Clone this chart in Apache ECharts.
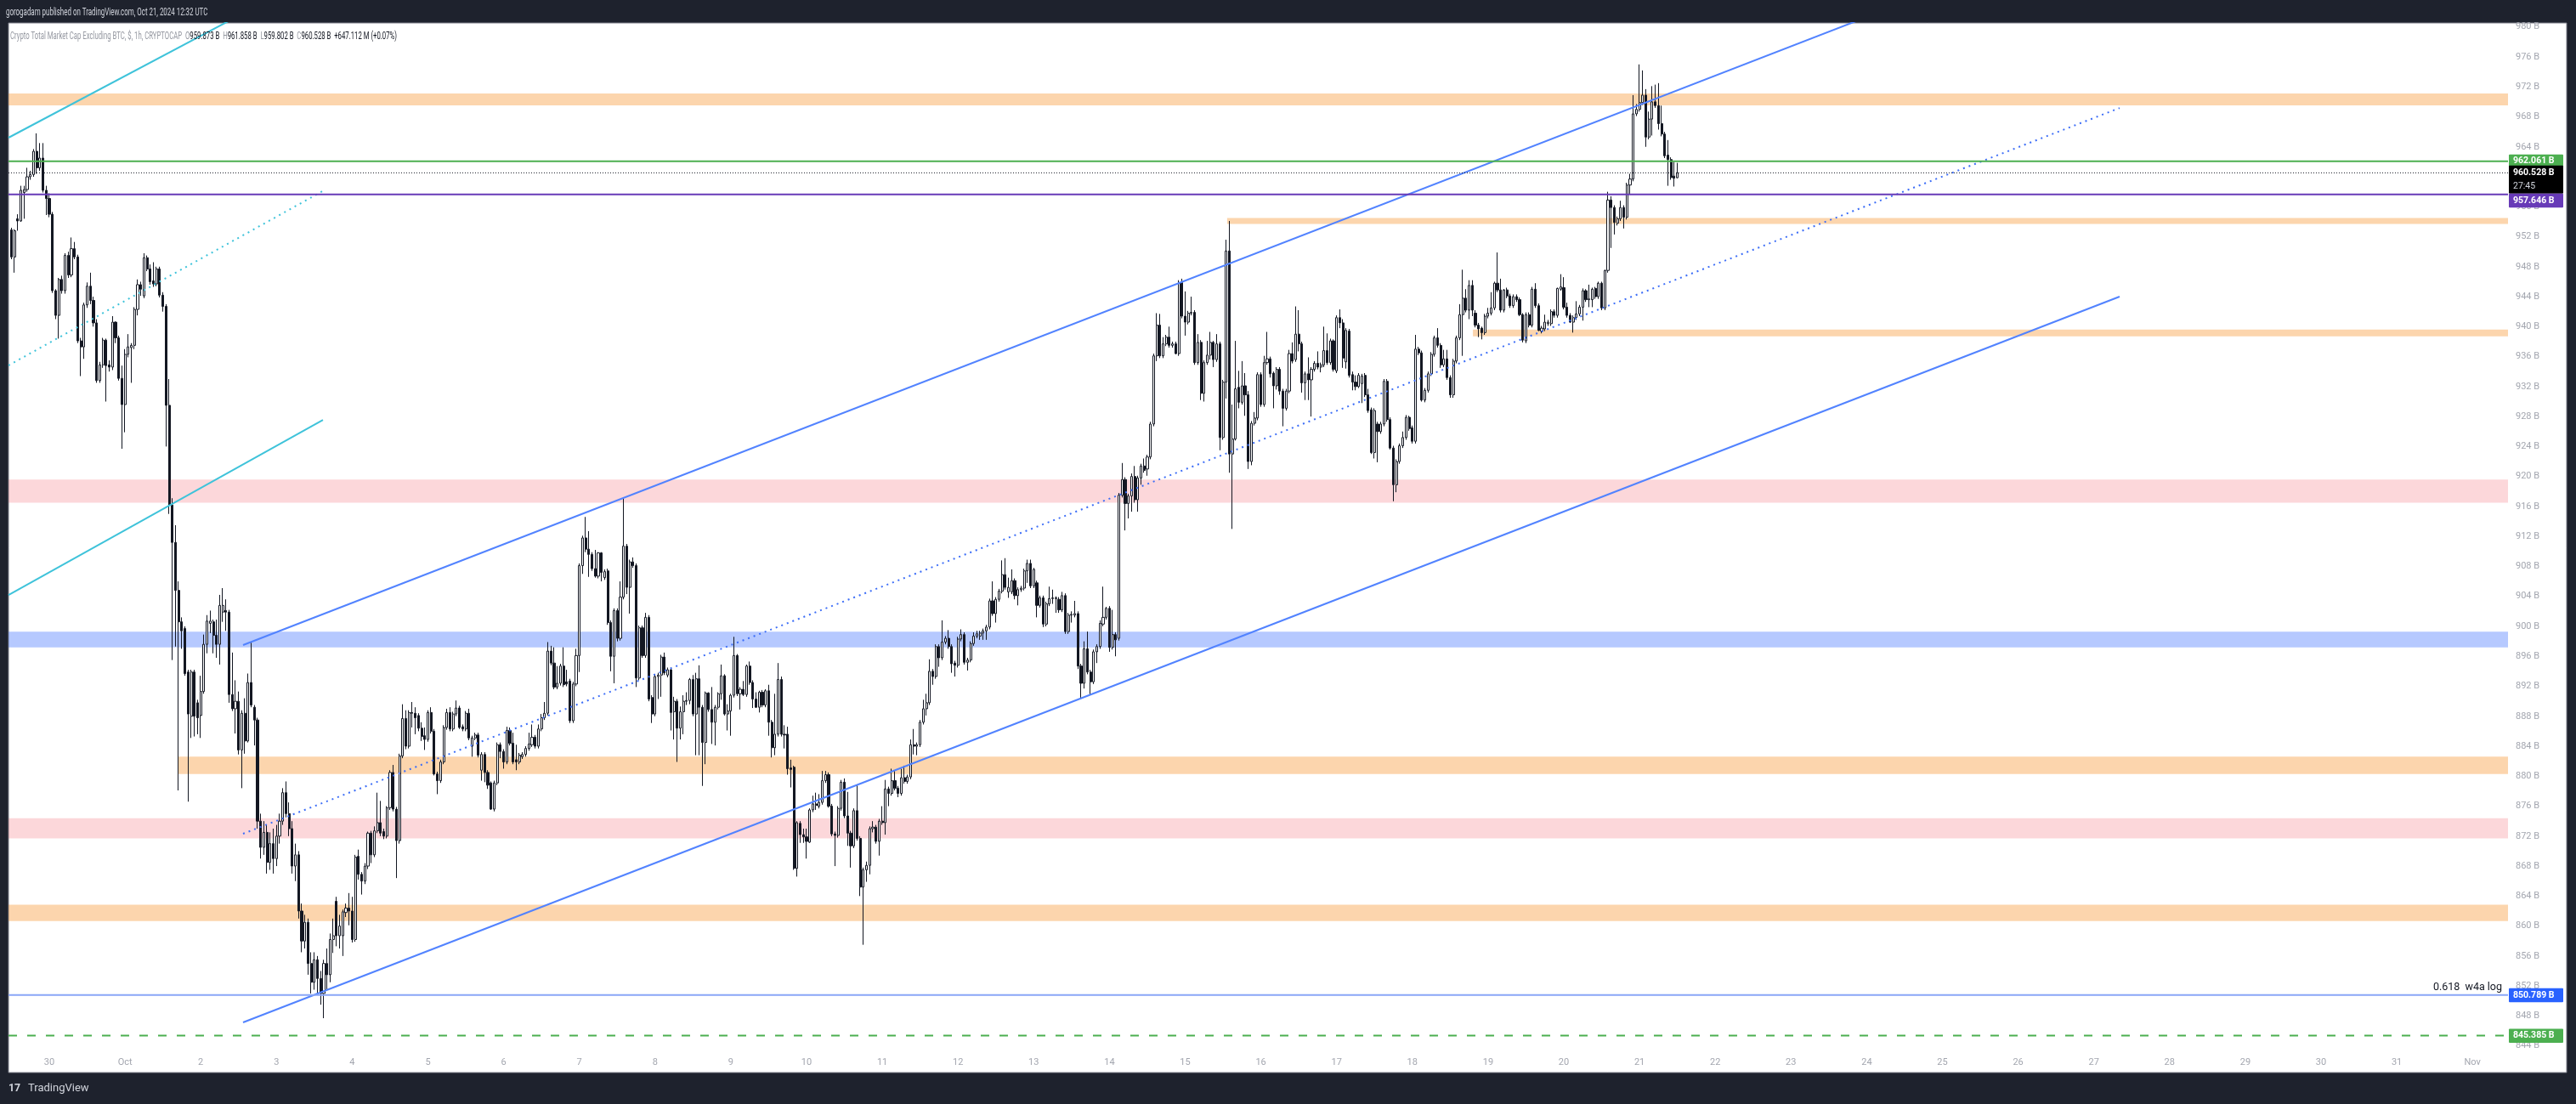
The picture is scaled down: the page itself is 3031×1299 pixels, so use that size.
<!DOCTYPE html>
<html><head><meta charset="utf-8">
<script src="https://cdn.jsdelivr.net/npm/echarts@6/dist/echarts.min.js"></script>
<style>html,body{margin:0;padding:0;background:#1e222d;overflow:hidden}#c{width:3031px;height:1299px}</style>
</head><body><div id="c"></div>
<script>
// ---------- DATA (hours counted from 2024-09-30 00:00 UTC, 1h candles) ----------
const candleStartHour = -12;
// [open, close, low, high] in billions USD
const candles = [
// Sep 29 12:00-23:00
[952.9,949.3,949.0,953.2],[949.3,952.8,947.2,953.0],[954.4,954.1,952.8,955.0],[954.1,958.2,954.0,958.8],
[957.9,958.3,954.4,958.8],[958.3,960.0,958.0,961.2],[960.0,960.3,959.6,960.8],[960.3,963.4,960.0,963.7],
[963.4,961.2,960.4,965.8],[961.2,962.5,960.8,964.5],[962.5,958.2,957.9,964.5],[958.2,957.1,954.9,958.8],
// Sep 30
[957.1,955.0,954.6,957.8],[955.0,944.8,944.5,955.3],[944.8,941.5,941.0,945.0],[941.5,946.3,938.4,946.5],
[946.3,944.8,944.4,946.8],[944.8,949.5,944.4,949.8],[949.5,946.9,946.5,950.0],[946.9,950.4,946.6,951.9],
[950.4,949.3,949.0,951.3],[949.3,938.1,937.8,949.6],[938.1,937.3,933.4,938.5],[937.3,942.9,935.7,943.2],
[942.9,945.4,942.5,945.9],[945.4,943.5,943.0,947.2],[943.5,940.5,940.0,944.0],[940.5,932.8,932.5,941.0],
[932.8,934.9,932.5,935.3],[934.9,938.2,934.5,938.5],[938.2,934.8,930.0,938.4],[934.9,934.6,934.0,935.5],
[934.6,940.6,934.2,941.4],[940.6,938.5,937.8,940.7],[938.5,933.1,932.8,938.8],[933.1,929.6,923.7,934.8],
// Oct 1
[929.6,936.3,925.9,937.0],[936.3,937.3,935.9,939.0],[937.2,937.5,932.5,937.8],[937.5,942.3,937.0,942.6],
[942.3,945.6,941.5,946.3],[945.6,945.0,944.1,946.0],[944.1,949.2,943.8,949.8],[949.2,947.7,947.4,949.5],
[947.7,946.0,945.6,948.3],[946.1,945.7,945.3,948.6],[945.7,947.7,945.4,948.0],[947.7,944.2,943.9,948.0],
[944.2,942.7,942.0,944.6],[942.7,929.5,924.0,943.0],[929.5,916.2,915.0,933.0],[916.2,911.2,895.5,917.1],
[911.2,904.8,897.3,913.5],[904.8,900.6,878.1,906.0],[900.6,899.4,897.0,901.2],[899.7,893.7,893.4,900.0],
[893.9,888.3,876.6,894.2],[888.0,893.9,885.1,894.2],[893.9,888.0,885.3,894.2],[889.8,887.8,885.6,890.2],
// Oct 2
[888.1,891.3,885.1,893.4],[891.3,897.6,891.0,898.9],[897.6,900.7,896.4,901.5],[900.4,900.7,899.1,902.1],
[900.6,898.8,896.4,900.9],[898.8,897.6,895.8,900.9],[897.6,902.8,894.9,904.2],[901.9,902.8,900.6,905.1],
[902.1,901.9,899.4,903.6],[901.9,890.9,889.8,902.2],[890.9,889.0,888.7,896.5],[889.0,890.0,885.7,892.8],
[890.0,883.5,882.9,891.3],[883.5,888.4,878.4,888.8],[888.4,884.7,883.0,890.4],[884.7,892.5,884.5,893.7],
[892.5,889.5,889.2,897.9],[889.2,887.5,884.1,889.5],[887.5,874.0,873.0,887.8],[874.0,870.5,869.0,875.0],
[870.5,872.5,869.5,874.0],[872.5,868.5,867.0,873.5],[868.5,871.0,867.5,872.5],[871.0,869.0,867.0,873.0],
// Oct 3
[869.0,872.0,868.0,873.5],[872.0,874.0,871.0,875.0],[874.0,877.8,873.5,878.4],[877.8,875.0,874.5,879.3],
[875.0,873.0,872.0,876.5],[873.0,868.0,867.0,874.0],[868.0,869.5,866.0,871.0],[869.5,862.0,861.0,870.0],
[862.0,858.0,856.5,863.0],[858.0,860.5,857.0,861.5],[860.5,855.0,853.5,861.0],[855.0,852.5,851.0,856.5],
[852.5,855.5,851.5,856.5],[855.5,853.0,851.0,856.0],[853.0,851.0,849.5,854.0],[851.0,855.0,847.7,855.5],
[855.0,853.5,851.5,857.0],[853.5,858.2,852.5,859.0],[858.2,858.7,856.4,861.0],[863.3,858.7,857.3,863.9],
[858.7,860.0,857.0,861.5],[858.7,861.9,856.0,862.2],[861.8,862.4,861.2,863.0],[862.4,862.0,860.1,864.4],
// Oct 4
[862.0,858.2,857.8,863.9],[858.2,869.2,857.9,869.5],[869.3,866.9,866.2,870.2],[866.9,866.0,864.2,867.2],
[866.0,868.0,865.6,868.4],[868.0,872.4,867.6,872.6],[872.4,869.5,868.4,872.7],[869.5,872.7,869.2,873.3],
[872.7,873.8,872.4,877.8],[873.8,872.4,872.0,876.7],[872.6,872.0,871.6,873.0],[872.0,875.8,871.7,876.0],
[875.8,880.5,875.5,880.8],[880.5,875.6,875.3,881.5],[875.6,871.4,866.4,875.9],[871.4,882.7,871.0,883.0],
[882.7,887.7,882.4,889.6],[887.7,884.0,883.6,888.8],[884.0,888.5,883.7,888.8],[888.5,888.4,886.5,889.9],
[888.4,887.8,885.6,889.2],[888.1,886.4,886.0,888.4],[886.4,885.3,884.7,887.2],[885.4,884.9,883.5,886.5],
// Oct 5
[884.9,888.5,884.6,888.8],[888.5,886.0,885.7,889.2],[886.0,880.3,880.1,886.3],[880.3,879.4,877.6,880.6],
[879.4,881.9,879.1,882.2],[881.9,886.5,881.6,886.8],[886.5,888.5,886.2,889.0],[888.5,886.3,886.0,889.2],
[886.3,888.3,886.0,888.6],[888.3,889.1,888.0,890.1],[889.1,886.5,886.3,889.4],[886.6,886.3,886.0,886.9],
[886.3,888.4,886.0,888.7],[888.4,885.1,884.8,889.0],[884.0,885.1,882.6,885.4],[885.1,885.5,884.8,885.8],
[885.5,882.8,882.5,885.8],[880.8,882.9,879.4,883.2],[882.9,880.5,879.2,883.2],[880.5,878.8,878.3,880.8],
[879.1,875.6,875.5,879.3],[875.6,879.1,875.3,879.4],[879.1,884.2,878.8,884.5],[884.2,883.3,882.4,884.5],
// Oct 6
[883.3,881.9,881.0,883.6],[881.9,886.1,881.6,886.6],[886.1,884.4,884.1,886.5],[884.4,881.9,881.6,885.8],
[882.2,881.9,880.8,884.2],[881.9,882.8,881.6,883.1],[882.6,882.9,882.3,883.2],[882.9,883.7,882.6,884.0],
[883.7,884.3,883.4,885.8],[884.2,885.2,883.9,886.9],[885.2,884.0,883.7,885.5],[884.0,886.3,883.7,886.9],
[886.3,887.8,886.0,888.3],[887.8,888.4,887.5,889.9],[888.4,896.7,888.1,897.9],[896.7,895.1,894.8,897.4],
[895.1,891.9,891.6,897.2],[891.9,892.4,891.6,894.7],[892.4,894.7,892.1,895.0],[894.7,892.2,891.9,897.2],
[892.6,892.3,892.0,894.2],[892.7,887.4,887.1,893.0],[887.4,892.3,887.1,892.6],[892.3,896.1,892.0,897.0],
// Oct 7
[896.1,908.1,893.9,908.4],[908.1,911.8,907.0,912.1],[911.8,910.3,909.9,914.6],[910.3,909.6,906.6,912.7],
[909.6,907.7,907.4,909.9],[907.7,906.7,906.5,910.2],[906.7,909.8,906.4,909.9],[909.8,907.2,906.0,909.9],
[906.5,907.3,906.2,907.6],[907.4,900.5,900.2,907.7],[900.5,896.0,894.0,900.8],[896.0,902.1,892.4,902.4],
[902.1,898.4,898.0,902.4],[898.4,903.9,898.1,906.0],[903.9,910.7,903.6,917.2],[910.7,905.2,904.3,911.0],
[905.2,908.6,901.7,908.9],[908.6,908.1,907.8,909.2],[908.1,893.1,891.9,908.4],[893.1,899.8,892.8,900.1],
[899.8,896.1,895.8,900.1],[896.1,901.2,895.8,901.8],[901.2,890.3,890.0,901.5],[890.5,888.3,887.1,890.8],
// Oct 8
[888.3,893.3,888.0,893.6],[893.3,893.5,890.3,893.8],[893.5,895.9,890.6,896.2],[895.9,893.8,893.5,896.5],
[893.5,894.2,893.2,894.5],[894.2,888.5,886.1,894.5],[888.6,890.0,884.9,890.6],[890.0,886.4,881.9,890.3],
[886.4,888.6,884.9,889.3],[888.6,890.0,885.6,890.8],[890.0,890.1,889.5,891.2],[890.1,892.9,889.6,893.1],
[892.9,888.3,888.0,893.5],[888.3,893.0,882.8,893.8],[893.0,889.2,882.8,894.8],[889.2,884.5,878.7,889.5],
[884.5,891.1,881.6,891.3],[891.1,888.9,888.6,891.2],[888.9,887.2,884.3,891.9],[887.2,889.2,884.1,889.5],
[889.2,891.0,888.9,891.2],[891.0,893.4,890.2,894.9],[893.4,888.3,888.1,893.6],[888.3,888.7,886.1,889.6],
// Oct 9
[888.7,890.8,885.4,891.0],[890.8,896.1,890.5,898.6],[896.1,891.0,890.7,896.3],[891.0,891.6,888.9,891.9],
[891.6,890.9,890.7,892.7],[890.9,894.7,890.6,894.9],[894.7,892.5,892.2,895.3],[892.5,890.3,889.1,892.8],
[890.3,889.2,889.1,891.2],[889.2,891.2,888.5,891.4],[891.2,889.5,889.2,891.5],[889.5,891.4,889.2,891.6],
[891.4,887.2,885.4,892.2],[887.2,883.8,882.5,887.5],[883.8,885.6,882.8,891.0],[885.6,892.9,885.3,895.1],
[892.9,885.6,885.3,893.3],[885.6,885.5,883.7,886.8],[885.6,881.0,880.2,886.6],[881.1,880.9,878.5,882.2],
[881.2,867.7,867.5,881.4],[867.7,873.8,866.6,874.0],[873.7,872.2,871.1,874.0],[872.2,871.9,871.1,873.0],
// Oct 10
[871.9,871.3,869.0,873.0],[871.2,875.5,871.1,875.7],[875.5,876.3,875.2,877.4],[876.3,876.1,875.5,877.8],
[876.0,876.5,875.7,877.6],[876.5,879.4,876.2,880.7],[879.4,880.2,879.1,880.7],[880.2,876.0,875.8,880.5],
[876.0,872.3,872.0,876.3],[872.3,872.1,868.0,872.6],[872.1,875.7,871.8,876.0],[875.7,879.2,875.4,879.5],
[879.2,874.7,874.4,879.7],[874.7,872.4,870.7,877.9],[872.4,870.7,867.8,872.7],[870.7,875.4,870.4,875.7],
[875.4,871.7,871.4,878.9],[871.7,865.2,864.0,872.0],[865.2,867.5,857.5,867.8],[867.5,868.1,865.9,868.6],
[868.1,873.0,866.9,873.3],[873.0,873.2,872.5,874.0],[873.2,871.3,871.0,873.5],[871.3,874.0,869.4,874.3],
// Oct 11
[874.0,873.8,873.5,876.0],[873.8,878.3,872.2,879.5],[878.3,877.7,876.0,878.6],[877.7,879.4,877.4,881.0],
[879.4,878.4,878.1,880.7],[878.4,877.7,877.2,878.7],[877.7,879.8,877.4,881.0],[879.8,879.3,879.0,881.4],
[879.3,879.9,879.0,880.2],[879.9,884.2,879.6,884.9],[884.2,884.0,882.9,886.3],[884.0,884.2,882.8,884.5],
[884.2,887.2,883.9,887.5],[887.2,889.0,886.9,890.2],[889.0,889.8,888.1,891.0],[889.8,894.0,889.5,895.6],
[894.0,893.3,892.2,894.3],[893.3,897.3,893.0,897.6],[897.3,895.8,894.6,897.6],[895.8,897.9,895.5,900.8],
[897.9,898.4,897.6,898.7],[898.4,897.3,897.0,899.5],[897.3,895.0,893.8,897.6],[895.1,894.8,893.3,895.4],
// Oct 12
[894.8,898.3,894.5,898.6],[898.3,898.9,898.0,899.6],[898.9,895.2,894.9,899.2],[895.2,895.5,894.1,895.8],
[895.5,897.7,895.2,898.0],[897.7,898.7,897.4,899.2],[898.7,899.0,898.4,899.4],[898.7,899.1,898.2,899.4],
[899.1,899.4,898.2,899.7],[899.4,899.9,898.2,900.2],[899.9,903.4,899.6,903.7],[903.4,901.7,901.4,906.0],
[901.7,903.6,900.5,903.9],[903.6,904.7,903.3,905.0],[904.7,906.9,904.4,908.8],[906.9,905.2,904.9,909.1],
[904.6,905.2,903.8,906.5],[904.6,906.1,904.3,907.6],[906.1,904.1,903.6,906.4],[904.1,904.9,902.8,905.2],
[904.9,905.1,904.6,905.4],[905.1,907.4,904.8,907.7],[907.4,908.4,905.8,908.9],[908.4,905.4,905.1,908.9],
// Oct 13
[905.4,907.6,905.1,907.8],[905.8,902.8,901.2,906.1],[902.8,903.8,902.5,904.1],[903.8,900.3,899.9,904.1],
[900.3,903.0,900.0,903.3],[903.0,903.7,902.7,905.3],[903.7,903.8,903.0,904.9],[903.7,903.8,901.8,904.0],
[903.6,902.2,901.8,903.9],[902.2,904.1,901.9,904.6],[904.1,899.3,899.0,904.4],[899.3,901.5,899.0,901.8],
[901.5,901.6,900.5,902.0],[901.5,901.7,901.2,903.4],[901.7,894.7,894.3,902.0],[894.7,892.4,890.4,895.0],
[892.4,897.0,891.7,898.0],[897.0,893.9,893.6,899.3],[893.9,892.6,890.9,894.2],[892.6,896.6,892.3,896.9],
[896.6,897.3,895.1,897.6],[897.3,900.4,897.0,900.8],[900.3,901.2,900.0,905.3],[901.2,902.4,900.9,902.6],
// Oct 14
[902.4,897.2,896.6,902.7],[897.2,898.9,896.9,902.2],[898.9,898.2,896.0,899.2],[898.4,917.5,898.1,917.8],
[917.5,919.6,917.2,921.8],[919.6,916.4,912.8,919.9],[916.4,917.4,914.4,917.7],[917.4,920.0,915.3,920.4],
[920.0,916.9,916.5,921.4],[916.9,919.8,915.3,920.1],[919.8,921.4,918.9,921.7],[921.4,920.8,920.5,922.4],
[921.0,922.6,920.1,922.9],[922.6,927.0,922.3,927.3],[927.0,936.1,926.7,936.4],[936.1,940.2,935.4,941.8],
[940.2,936.1,935.8,941.7],[936.1,937.7,935.8,938.6],[937.7,938.6,937.4,938.9],[938.6,937.5,937.2,940.0],
[937.5,937.7,937.2,938.0],[937.7,936.4,936.3,938.0],[936.4,945.9,936.1,946.2],[945.9,941.4,941.1,946.4],
// Oct 15
[941.4,940.6,938.8,944.7],[940.6,941.8,940.3,942.1],[941.8,941.9,941.5,944.0],[941.9,935.2,934.9,942.2],
[935.2,937.9,934.9,939.0],[937.9,931.1,930.2,938.2],[931.1,935.2,930.0,935.5],[935.2,936.2,934.9,938.1],
[936.2,937.9,935.6,939.3],[937.9,935.6,934.6,938.1],[935.6,937.7,935.3,939.0],[937.7,925.2,923.5,938.0],
[925.2,932.6,924.9,932.9],[932.6,950.1,930.4,951.6],[950.1,923.0,920.5,954.1],[923.0,925.0,913.0,929.6],
[925.0,931.7,924.8,938.1],[931.9,929.9,929.1,934.1],[929.9,932.1,929.6,935.4],[932.1,930.9,928.1,933.8],
[930.9,922.0,921.0,931.4],[922.0,927.1,921.5,927.4],[927.1,927.8,926.8,928.6],[927.8,933.6,927.5,933.9],
// Oct 16
[933.6,929.6,929.3,933.9],[929.6,935.2,929.3,936.1],[935.2,935.7,934.9,939.3],[935.7,933.7,933.2,936.0],
[933.8,932.1,929.1,934.0],[932.1,934.3,931.6,934.6],[934.3,931.4,930.9,934.6],[931.4,929.1,926.7,931.7],
[929.1,931.4,928.8,931.7],[931.4,936.4,931.1,936.9],[936.4,935.4,935.1,937.9],[935.6,939.0,935.3,942.7],
[939.0,937.7,936.7,942.2],[937.7,932.5,931.2,938.0],[932.5,933.7,930.2,934.0],[933.7,932.9,930.2,935.9],
[932.9,934.3,928.0,934.6],[934.3,935.1,934.0,935.4],[935.1,934.6,934.3,936.7],[934.6,934.9,933.9,935.2],
[934.9,936.8,934.6,940.0],[936.8,935.2,934.9,939.1],[935.2,938.1,934.9,938.4],[938.1,934.3,934.0,938.3],
// Oct 17
[934.1,941.2,933.8,941.5],[941.2,940.5,939.8,942.3],[940.5,935.8,934.5,941.0],[935.3,939.5,934.4,939.8],
[939.4,933.5,933.2,939.7],[933.6,932.6,931.5,934.0],[932.6,932.0,931.5,933.5],[932.0,933.5,931.8,933.8],
[932.4,933.4,929.8,933.7],[933.5,930.9,930.6,933.8],[930.9,928.8,928.5,931.7],[928.9,923.2,923.0,929.2],
[923.2,928.8,922.4,929.1],[927.0,926.0,921.9,927.3],[926.0,927.0,925.7,927.3],[927.0,932.7,926.7,933.0],
[932.7,927.6,927.3,933.0],[927.6,923.8,923.6,927.9],[923.8,918.9,916.7,924.1],[918.9,922.0,917.9,922.3],
[922.0,924.1,921.7,924.4],[924.1,925.2,923.8,926.0],[925.2,927.9,924.9,928.2],[927.9,926.4,926.1,928.1],
// Oct 18
[926.5,924.7,924.4,926.8],[924.7,937.0,924.4,938.9],[937.0,936.5,936.2,937.3],[936.5,930.2,930.0,936.8],
[930.2,931.5,929.9,931.8],[931.5,933.7,931.2,934.0],[933.7,936.3,933.4,936.6],[936.3,938.5,936.0,938.8],
[938.5,937.5,937.2,939.8],[937.5,934.9,934.5,937.8],[934.9,935.7,934.6,936.9],[935.7,933.2,932.9,936.9],
[933.2,930.9,930.5,933.5],[930.9,935.4,930.5,935.7],[935.4,938.5,935.1,938.8],[938.5,941.6,938.2,943.0],
[941.6,943.8,936.1,947.6],[943.8,942.2,941.9,945.0],[942.2,945.5,941.0,946.2],[945.5,942.2,941.4,946.2],
[941.8,940.2,939.9,942.2],[940.2,939.7,938.6,940.5],[939.8,939.2,938.3,940.0],[939.2,941.4,938.9,941.7],
// Oct 19
[941.4,941.8,941.1,942.5],[941.8,942.5,941.5,944.6],[942.5,945.8,942.2,946.0],[945.8,944.9,944.6,949.9],
[944.9,942.2,941.9,946.4],[942.2,944.9,941.9,945.0],[944.9,944.1,943.8,945.2],[944.1,942.8,942.5,944.4],
[942.8,944.0,942.5,944.3],[944.0,943.6,943.3,944.3],[943.6,941.6,941.4,943.9],[941.6,938.2,937.9,941.8],
[938.1,941.6,937.8,941.9],[941.6,940.2,939.9,941.9],[940.2,945.0,939.9,945.3],[945.0,942.8,942.5,945.8],
[942.8,939.5,939.4,943.1],[939.4,939.8,939.1,940.1],[939.7,940.6,939.4,941.6],[940.4,940.6,940.1,940.9],
[940.4,942.0,940.1,942.3],[942.0,941.5,941.2,942.3],[941.5,945.1,941.2,945.2],[945.0,945.3,944.8,947.0],
// Oct 20
[945.2,942.6,942.3,946.6],[942.6,941.5,941.2,943.2],[941.5,940.6,940.5,941.8],[940.6,941.2,939.2,941.5],
[941.2,941.7,940.9,943.4],[941.7,942.6,941.4,942.9],[942.6,944.8,940.8,945.1],[944.8,943.6,943.3,945.0],
[943.6,943.7,942.6,945.6],[943.6,945.0,942.6,945.2],[945.1,944.0,943.7,945.3],[944.0,945.8,943.7,946.0],
[945.8,942.5,942.2,946.0],[942.5,947.5,942.2,947.6],[947.5,956.9,947.2,958.0],[956.9,955.9,950.5,957.4],
[955.9,953.9,952.3,956.2],[953.8,954.4,953.5,954.7],[954.4,955.9,954.1,956.8],[955.9,954.6,953.1,956.2],
[954.6,958.9,954.3,959.2],[958.9,959.7,957.6,960.4],[959.7,968.4,959.4,970.9],[968.4,969.0,968.1,969.7],
// Oct 21 00:00-12:00
[969.0,969.9,968.7,975.0],[969.9,970.9,969.6,974.2],[970.9,965.3,964.0,971.7],[965.3,967.7,965.0,968.7],
[967.7,970.0,965.5,972.1],[970.0,969.5,969.2,972.3],[969.5,967.1,966.3,972.5],[967.1,965.7,965.4,969.5],
[965.7,962.8,962.5,966.0],[962.9,962.3,958.8,964.9],[962.3,959.9,959.6,962.6],[960.1,959.8,958.7,962.0],
[959.873,960.528,959.802,961.858]
];
const dayTicks = [0,24,48,72,96,120,144,168,192,216,240,264,288,312,336,360,384,408,432,456,480,504,528,552,576,600,624,648,672,696,720,744,768];
const dayLabels = ['30','Oct','2','3','4','5','6','7','8','9','10','11','12','13','14','15','16','17','18','19','20','21','22','23','24','25','26','27','28','29','30','31','Nov'];
const priceTicks = [844,848,852,856,860,864,868,872,876,880,884,888,892,896,900,904,908,912,916,920,924,928,932,936,940,944,948,952,956,960,964,968,972,976,980];
// horizontal price levels
const levelHigh = 962.061, levelLast = 960.528, levelLow = 957.646, levelFib = 850.789, levelBottom = 845.385;
// zones: [startHour, low, high]
const orangeZones = [[-12.93,969.53,971.12],[373.3,953.7,954.5],[451.2,938.7,939.6],[40.9,880.3,882.6],[-12.93,860.65,862.85]];
const pinkZones = [[-12.93,916.5,919.6],[-12.93,871.7,874.4]];
const blueZones = [[-12.93,897.2,899.3]];
// trend lines: [[hour, value],[hour, value]]
const channelUpper = [[61.41,897.50],[650,993.37]];
const channelLower = [[61.41,847.14],[656.16,944.01]];
const channelMid = [[61.41,872.32],[656.16,969.18]];
const cyanTop = [[-12.93,965.22],[86.73,987.45]];
const cyanMid = [[-12.93,934.82],[86.73,958.11]];
const cyanLow = [[-12.93,904.19],[86.73,927.56]];

// ---------- CHART ----------
const xMin = -12.93, xMax = 779.26, yMin = 842.94, yMax = 980.533;
const chart = echarts.init(document.getElementById('c'), null, {width:3031, height:1299});
const lbl = '#a3a6af';
function zoneData(list){ return list.map(z => [{xAxis:z[0], yAxis:z[2]}, {xAxis:xMax, yAxis:z[1]}]); }
function hline(v, color, width, type){
  return {type:'line', data:[[xMin,v],[xMax,v]], symbol:'none', silent:true, z:7, animation:false,
          lineStyle:{color, width, type}};
}
function tline(pts, color, width, type){
  return {type:'line', data:pts, symbol:'none', silent:true, z:7, clip:true, animation:false,
          lineStyle:{color, width, type}};
}
const option = {
  animation:false,
  backgroundColor:'#1e222d',
  grid:{left:10, right:80, top:27, bottom:59, containLabel:false},
  xAxis:{type:'value', min:xMin, max:xMax, axisLine:{show:false}, axisTick:{show:false}, splitLine:{show:false},
    axisLabel:{customValues:dayTicks, margin:5, color:lbl, fontSize:11, fontFamily:'Roboto',
      formatter:v => dayLabels[dayTicks.indexOf(v)]}},
  yAxis:{type:'value', position:'right', min:yMin, max:yMax, scale:true, axisLine:{show:false}, axisTick:{show:false}, splitLine:{show:false},
    axisLabel:{customValues:priceTicks, margin:9, color:lbl, fontSize:11, fontFamily:'Roboto',
      formatter:v => v + ' B'}},
  series:[
    {type:'candlestick', name:'TOTAL2',
     dimensions:['t','open','close','lowest','highest'],
     encode:{x:'t', y:['open','close','lowest','highest']},
     data:candles.map((c,i)=>[candleStartHour+i, c[0], c[1], c[2], c[3]]),
     barWidth:2.6, z:5, silent:true,
     itemStyle:{color:'#ffffff', color0:'#131722', borderColor:'#131722', borderColor0:'#131722', borderWidth:1}},
    {type:'line', data:[], symbol:'none', z:6, silent:true,
     markArea:{silent:true, itemStyle:{color:'rgba(245,124,0,0.32)'}, data:zoneData(orangeZones)}},
    {type:'line', data:[], symbol:'none', z:6, silent:true,
     markArea:{silent:true, itemStyle:{color:'rgba(242,54,69,0.2)'}, data:zoneData(pinkZones)}},
    {type:'line', data:[], symbol:'none', z:6, silent:true,
     markArea:{silent:true, itemStyle:{color:'rgba(41,98,255,0.34)'}, data:zoneData(blueZones)}},
    tline(channelUpper, '#5283ff', 2, 'solid'),
    tline(channelLower, '#5283ff', 2, 'solid'),
    tline(channelMid, '#3d6ef7', 2, [2,5]),
    tline(cyanTop, '#3fc3da', 2, 'solid'),
    tline(cyanMid, '#3fc3da', 2, [2,5]),
    tline(cyanLow, '#3fc3da', 2, 'solid'),
    hline(levelHigh, '#4caf50', 2, 'solid'),
    hline(levelLast, '#131722', 1, [1,2]),
    hline(levelLow, '#673ab7', 2, 'solid'),
    hline(levelFib, '#8aa6f7', 2, 'solid'),
    hline(levelBottom, '#4caf50', 2, [10,12])
  ]
};
chart.setOption(option);

const py = v => chart.convertToPixel({yAxisIndex:0}, v);
const g = [];
g.push({type:'rect', shape:{x:10, y:27, width:3010, height:1235}, style:{fill:'#ffffff', stroke:'#787b86', lineWidth:1}, z:-10, silent:true});
function txt(x, y, text, fill, size, weight, align, extra){
  const el = {type:'text', x, y, z:101, silent:true,
    style:Object.assign({text, fill, fontSize:size, fontFamily:'Roboto', fontWeight:weight||'normal',
      textAlign:align||'left', align:align||'left', textVerticalAlign:'middle', verticalAlign:'middle'}, extra||{})};
  g.push(el); return el;
}
// header
const t1 = txt(7, 15, 'gorogadam published on TradingView.com, Oct 21, 2024 12:32 UTC', '#d1d4dc', 12.5, 'normal');
t1.scaleX = 0.635;
const leg = {type:'text', x:12, y:43, z:101, scaleX:0.62, silent:true, style:{
  text:'{g|Crypto Total Market Cap Excluding BTC, $, 1h, CRYPTOCAP}  {g|O}{k|959.873 B}  {g|H}{k|961.858 B}  {g|L}{k|959.802 B}  {g|C}{k|960.528 B}  {k|+647.112 M (+0.07%)}',
  fontSize:12.5, fontFamily:'Roboto', textVerticalAlign:'middle', verticalAlign:'middle',
  rich:{g:{fill:'#9598a1', color:'#9598a1', fontSize:12.5, fontFamily:'Roboto'}, k:{fill:'#131722', color:'#131722', fontSize:12.5, fontFamily:'Roboto'}}}};
g.push(leg);
// footer logo
txt(10, 1281, '17', '#d1d4dc', 13, 'bold').scaleX = 0.95;
const tv = txt(33, 1281, 'TradingView', '#d1d4dc', 13, 'normal'); tv.scaleX = 1.0;
// right-side price boxes
const bx = 2952, bw = 64;
function box(y, h, fill){ g.push({type:'rect', shape:{x:bx, y, width:bw, height:h, r:1}, style:{fill}, z:100, silent:true}); }
const yH = py(levelHigh); box(yH-8, 16, '#4caf50'); txt(2957, yH, '962.061 B', '#ffffff', 10.5, 'bold');
const yL = py(levelLast); box(yL-8.5, 33, '#000000'); txt(2957, yL, '960.528 B', '#ffffff', 10.5, 'bold'); txt(2957, yL+16, '27:45', '#d1d4dc', 10.5, 'normal');
const yP = yL+24.5; box(yP, 16.5, '#673ab7'); txt(2957, yP+8.3, '957.646 B', '#ffffff', 10.5, 'bold');
const yF = py(levelFib); box(yF-8, 16.5, '#2962ff'); txt(2957, yF+0.3, '850.789 B', '#ffffff', 10.5, 'bold');
const yB = py(levelBottom); box(yB-8, 16.5, '#4caf50'); txt(2957, yB+0.3, '845.385 B', '#ffffff', 10.5, 'bold');
txt(2944, yF-9, '0.618  w4a log', '#131722', 12.5, 'normal', 'right');
chart.setOption({graphic:{elements:g}});
</script></body></html>
